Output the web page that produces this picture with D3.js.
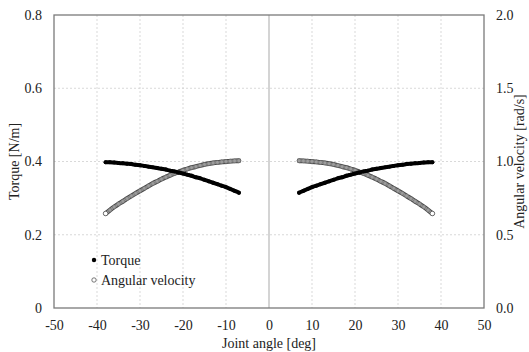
<!DOCTYPE html>
<html>
<head>
<meta charset="utf-8">
<script src="https://cdn.jsdelivr.net/npm/d3@7"></script>
<style>
  body { margin: 0; background: #fff; }
  svg text { font-family: "Liberation Serif", "Times New Roman", serif; fill: #222; }
</style>
</head>
<body>
<div class="chart-holder"></div>
<script>
// joint angle [deg]
var anglesLeft  = [-38,-37,-36,-35,-34,-33,-32,-31,-30,-29,-28,-27,-26,-25,-24,-23,
                   -22,-21,-20,-19,-18,-17,-16,-15,-14,-13,-12,-11,-10,-9,-8,-7];
var anglesRight = [7,8,9,10,11,12,13,14,15,16,17,18,19,20,21,22,
                   23,24,25,26,27,28,29,30,31,32,33,34,35,36,37,38];

// torque [N/m]
var torqueLeft  = [0.398,0.398,0.397,0.396,0.395,0.394,0.393,0.391,0.390,0.388,0.386,0.384,0.382,0.380,0.378,0.375,
                   0.373,0.370,0.367,0.364,0.361,0.357,0.354,0.350,0.346,0.342,0.338,0.334,0.330,0.325,0.320,0.315];
var torqueRight = [0.315,0.320,0.325,0.330,0.334,0.338,0.342,0.346,0.350,0.354,0.357,0.361,0.364,0.367,0.370,0.373,
                   0.375,0.378,0.380,0.382,0.384,0.386,0.388,0.390,0.391,0.393,0.394,0.395,0.396,0.397,0.398,0.398];

// angular velocity [rad/s]
var velocityLeft  = [0.645,0.668,0.690,0.710,0.728,0.747,0.765,0.783,0.800,0.817,0.834,0.850,0.865,0.880,0.893,0.906,
                     0.918,0.929,0.940,0.949,0.958,0.965,0.973,0.980,0.985,0.990,0.994,0.997,1.000,1.002,1.004,1.005];
var velocityRight = [1.005,1.004,1.002,1.000,0.997,0.994,0.990,0.985,0.980,0.973,0.965,0.958,0.949,0.940,0.929,0.918,
                     0.906,0.893,0.880,0.865,0.850,0.834,0.817,0.800,0.783,0.765,0.747,0.728,0.710,0.690,0.668,0.645];

var xTicks = [-50,-40,-30,-20,-10,0,10,20,30,40,50];
var yLeftTicks = [0,0.2,0.4,0.6,0.8];
var yRightTicks = [0,0.5,1.0,1.5,2.0];

var margin = {top: 15, right: 45, bottom: 44, left: 54};
var width = 529 - margin.left - margin.right;
var height = 352 - margin.top - margin.bottom;

var scaleX = d3.scaleLinear().domain([-50, 50]).range([0, width]);
var scaleY = d3.scaleLinear().domain([0, 0.8]).range([height, 0]);
var scaleY2 = d3.scaleLinear().domain([0, 2.0]).range([height, 0]);

var svg = d3.select(".chart-holder")
      .append("svg")
      .attr("width", 529)
      .attr("height", 352);

var grp = svg.append("g").attr("transform", `translate(${margin.left}, ${margin.top})`);

/* grid */
grp.selectAll("line.vgrid")
   .data(xTicks.filter(function(d){ return d > -50 && d < 50; }))
   .enter().append("line")
   .attr("x1", function(d){ return scaleX(d); })
   .attr("x2", function(d){ return scaleX(d); })
   .attr("y1", 0).attr("y2", height)
   .attr("stroke", function(d){ return d == 0 ? "#b8b8b8" : "#cfcfcf"; })
   .attr("stroke-width", function(d){ return d == 0 ? 1.2 : 0.8; })
   .attr("stroke-dasharray", function(d){ return d == 0 ? null : "2,2"; });

grp.selectAll("line.hgrid")
   .data(yLeftTicks.filter(function(d){ return d > 0 && d < 0.8; }))
   .enter().append("line")
   .attr("x1", 0).attr("x2", width)
   .attr("y1", function(d){ return scaleY(d); })
   .attr("y2", function(d){ return scaleY(d); })
   .attr("stroke", "#cfcfcf")
   .attr("stroke-width", 0.8)
   .attr("stroke-dasharray", "2,2");

/* frame */
grp.append("rect")
   .attr("width", width).attr("height", height)
   .attr("fill", "none")
   .attr("stroke", "#7a7a7a")
   .attr("stroke-width", 1.3);

/* axes: labels only, no tick marks */
var axisB = grp.append("g").attr("transform", `translate(0, ${height})`)
   .call(d3.axisBottom(scaleX).tickValues(xTicks).tickSize(0).tickPadding(12)
         .tickFormat(function(d){ return String(d); }));
var axisL = grp.append("g")
   .call(d3.axisLeft(scaleY).tickValues(yLeftTicks).tickSize(0).tickPadding(12)
         .tickFormat(function(d){ return d == 0 ? "0" : d.toFixed(1); }));
var axisR = grp.append("g").attr("transform", `translate(${width}, 0)`)
   .call(d3.axisRight(scaleY2).tickValues(yRightTicks).tickSize(0).tickPadding(12)
         .tickFormat(function(d){ return d.toFixed(1); }));
[axisB, axisL, axisR].forEach(function(a){
  a.attr("font-family", null);
  a.select(".domain").remove();
  a.selectAll("text").style("font-family", "Liberation Serif, serif").style("font-size", "14px").attr("fill", "#222");
});

/* series */
function drawTorque(angles, values){
  var pts = angles.map(function(a, i){ return {x: a, y: values[i]}; });
  var line = d3.line().x(function(d){ return scaleX(d.x); }).y(function(d){ return scaleY(d.y); }).curve(d3.curveMonotoneX);
  grp.append("path").datum(pts).attr("d", line)
     .attr("fill", "none").attr("stroke", "#000").attr("stroke-width", 4).attr("stroke-linecap", "round");
  grp.selectAll(null).data(pts).enter().append("circle")
     .attr("cx", function(d){ return scaleX(d.x); })
     .attr("cy", function(d){ return scaleY(d.y); })
     .attr("r", 2).attr("fill", "#000");
}
function drawVelocity(angles, values){
  var pts = angles.map(function(a, i){ return {x: a, y: values[i]}; });
  var line = d3.line().x(function(d){ return scaleX(d.x); }).y(function(d){ return scaleY2(d.y); }).curve(d3.curveMonotoneX);
  grp.append("path").datum(pts).attr("d", line)
     .attr("fill", "none").attr("stroke", "#4a4a4a").attr("stroke-width", 4.8).attr("stroke-linecap", "round");
  grp.append("path").datum(pts).attr("d", line)
     .attr("fill", "none").attr("stroke", "#9c9c9c").attr("stroke-width", 2.6).attr("stroke-linecap", "round");
  grp.selectAll(null).data(pts).enter().append("circle")
     .attr("cx", function(d){ return scaleX(d.x); })
     .attr("cy", function(d){ return scaleY2(d.y); })
     .attr("r", 1.9).attr("fill", "#9c9c9c").attr("stroke", "#666").attr("stroke-width", 0.5);
  // open markers at the outer ends
  var ends = pts.filter(function(d){ return Math.abs(d.x) == 38; });
  grp.selectAll(null).data(ends).enter().append("circle")
     .attr("cx", function(d){ return scaleX(d.x); })
     .attr("cy", function(d){ return scaleY2(d.y); })
     .attr("r", 2.3).attr("fill", "#fff").attr("stroke", "#555").attr("stroke-width", 0.8);
}

drawVelocity(anglesLeft, velocityLeft);
drawTorque(anglesLeft, torqueLeft);
drawVelocity(anglesRight, velocityRight);
drawTorque(anglesRight, torqueRight);

/* legend */
var legend = grp.append("g").style("font-size", "14px");
legend.append("circle").attr("cx", 40).attr("cy", 245).attr("r", 2.2).attr("fill", "#000");
legend.append("text").attr("x", 47).attr("y", 245).attr("dy", "0.35em").text("Torque");
legend.append("circle").attr("cx", 40).attr("cy", 265).attr("r", 2.2).attr("fill", "#fff").attr("stroke", "#555").attr("stroke-width", 0.8);
legend.append("text").attr("x", 47).attr("y", 265).attr("dy", "0.35em").text("Angular velocity");

/* axis titles */
svg.append("text")
   .attr("x", margin.left + width / 2).attr("y", 348)
   .attr("text-anchor", "middle").style("font-size", "14px")
   .text("Joint angle [deg]");

svg.append("text")
   .attr("transform", "rotate(270)")
   .attr("x", -(margin.top + height / 2)).attr("y", 19)
   .attr("text-anchor", "middle").style("font-size", "14px")
   .text("Torque [N/m]");

svg.append("text")
   .attr("transform", "rotate(270)")
   .attr("x", -(margin.top + height / 2)).attr("y", 524)
   .attr("text-anchor", "middle").style("font-size", "14px")
   .text("Angular velocity [rad/s]");
</script>
</body>
</html>
